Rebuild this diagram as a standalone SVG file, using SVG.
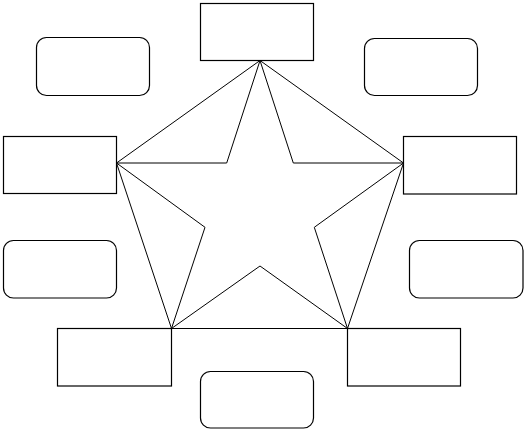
<svg xmlns="http://www.w3.org/2000/svg" width="525" height="431" viewBox="0 0 525 431">
<style>
.box{fill:#fff;stroke:#000;stroke-width:1.2}
.conn{fill:none;stroke:#000;stroke-width:1;stroke-linejoin:miter}
</style>
<rect width="525" height="431" fill="#fff"/>
<g id="connectors">
<polygon class="conn" points="260,60.5 116.5,163 171.5,328.5 347.5,328.5 403.5,163"/>
<polygon class="conn" points="260,60.5 293.3,163 403.5,163 314.3,227.3 347.5,328.5 260,266 171.5,328.5 205,227.3 116.5,163 226.7,163"/>
</g>
<g id="node-top"><rect class="box" x="200.5" y="3.5" width="113" height="57"/></g>
<g id="node-left"><rect class="box" x="3.5" y="136.5" width="113" height="57"/></g>
<g id="node-right"><rect class="box" x="403.5" y="136.5" width="113" height="57.5"/></g>
<g id="node-bottom-left"><rect class="box" x="57.5" y="328.5" width="114" height="57.5"/></g>
<g id="node-bottom-right"><rect class="box" x="347.5" y="328.5" width="113" height="57.5"/></g>
<g id="note-top-left"><rect class="box" x="36.5" y="37.5" width="113" height="58" rx="10" ry="10"/></g>
<g id="note-top-right"><rect class="box" x="364.5" y="38.5" width="113" height="57" rx="10" ry="10"/></g>
<g id="note-left"><rect class="box" x="3.5" y="240.5" width="113" height="57.5" rx="10" ry="10"/></g>
<g id="note-right"><rect class="box" x="409.5" y="240.5" width="113.5" height="57.5" rx="10" ry="10"/></g>
<g id="note-bottom"><rect class="box" x="200.5" y="371.5" width="113" height="56.5" rx="10" ry="10"/></g>
</svg>
